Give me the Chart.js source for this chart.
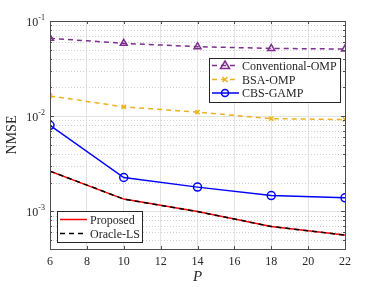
<!DOCTYPE html>
<html>
<head>
<meta charset="utf-8">
<script src="https://cdn.jsdelivr.net/npm/chart.js@4"></script>
<style>
  html, body { margin: 0; padding: 0; background: #fff; }
</style>
</head>
<body>
<canvas id="grafico" width="382" height="287"></canvas>
<script>
// dados
const pValues = [6, 10, 14, 18, 22];
const convOmp = [0.0658, 0.0582, 0.0537, 0.0515, 0.0507];
const bsaOmp = [0.0163, 0.0125, 0.0110, 0.0094, 0.0092];
const cbsGamp = [0.0080, 0.00226, 0.00179, 0.00146, 0.00138];
const proposed = [0.00264, 0.00134, 0.00099, 0.00069, 0.00056];
const oracleLs = [0.00264, 0.00134, 0.00099, 0.00069, 0.00056];
const xTicks = [6, 8, 10, 12, 14, 16, 18, 20, 22];
const yDecades = [1e-3, 1e-2, 1e-1];

const SERIF = '"Liberation Serif", "DejaVu Serif", serif';
const AXIS = "#4d4d4d";

const pts = (ys) => ys.map((y, i) => ({ x: pValues[i], y: y }));

const legendA = [
  { label: "Conventional-OMP", color: "#7E2F8E", dash: [5, 4], marker: "tri" },
  { label: "BSA-OMP", color: "#EDB120", dash: [5, 4], marker: "x" },
  { label: "CBS-GAMP", color: "#0000FF", dash: [], marker: "circ" },
];
const legendB = [
  { label: "Proposed", color: "#FF0000", dash: [], marker: null },
  { label: "Oracle-LS", color: "#000000", dash: [5, 4], marker: null },
];

function drawMarker(ctx, kind, x, y, color) {
  ctx.save();
  ctx.strokeStyle = color;
  ctx.lineWidth = 1.5;
  ctx.setLineDash([]);
  ctx.beginPath();
  if (kind === "tri") {
    ctx.moveTo(x, y - 4.5);
    ctx.lineTo(x + 4.5, y + 3);
    ctx.lineTo(x - 4.5, y + 3);
    ctx.closePath();
  } else if (kind === "circ") {
    ctx.arc(x, y, 3.5, 0, Math.PI * 2);
  } else if (kind === "x") {
    ctx.moveTo(x - 2.5, y - 2.5); ctx.lineTo(x + 2.5, y + 2.5);
    ctx.moveTo(x + 2.5, y - 2.5); ctx.lineTo(x - 2.5, y + 2.5);
  }
  ctx.stroke();
  ctx.restore();
}

function drawLegend(ctx, items, x0, y0, w, h, rowY) {
  ctx.save();
  ctx.fillStyle = "#fff";
  ctx.fillRect(x0, y0, w, h);
  ctx.strokeStyle = "#262626";
  ctx.lineWidth = 1;
  ctx.strokeRect(x0 + 0.5, y0 + 0.5, w, h);
  ctx.font = "12px " + SERIF;
  ctx.textBaseline = "middle";
  items.forEach((it, i) => {
    const y = rowY[i];
    ctx.strokeStyle = it.color;
    ctx.lineWidth = 1.5;
    ctx.setLineDash(it.dash);
    ctx.beginPath();
    ctx.moveTo(x0 + 3, y);
    ctx.lineTo(x0 + 30, y);
    ctx.stroke();
    if (it.marker) drawMarker(ctx, it.marker, x0 + 16, y, it.color);
    ctx.fillStyle = "#262626";
    ctx.fillText(it.label, x0 + 33, y + 1);
  });
  ctx.restore();
}

const molduraPlugin = {
  id: "moldura",
  beforeDatasetsDraw(chart) {
    const { ctx, chartArea: a } = chart;
    const ys = chart.scales.y;
    // linhas secundárias pontilhadas
    ctx.save();
    ctx.strokeStyle = "#cfcfcf";
    ctx.lineWidth = 1;
    ctx.setLineDash([1, 2]);
    for (let e = -4; e <= -2; e++) {
      for (let m = 2; m <= 9; m++) {
        const v = m * Math.pow(10, e);
        if (v < ys.min || v > ys.max) continue;
        const py = Math.round(ys.getPixelForValue(v)) + 0.5;
        ctx.beginPath();
        ctx.moveTo(a.left, py);
        ctx.lineTo(a.right, py);
        ctx.stroke();
      }
    }
    ctx.restore();
  },
  afterDraw(chart) {
    const { ctx, chartArea: a } = chart;
    const xs = chart.scales.x;
    const ys = chart.scales.y;
    ctx.save();
    // caixa
    ctx.strokeStyle = AXIS;
    ctx.lineWidth = 1;
    ctx.strokeRect(a.left + 0.5, a.top + 0.5, a.right - a.left, a.bottom - a.top);
    // marcas de x
    ctx.beginPath();
    xTicks.forEach((v) => {
      const px = Math.round(xs.getPixelForValue(v)) + 0.5;
      ctx.moveTo(px, a.bottom); ctx.lineTo(px, a.bottom - 3);
      ctx.moveTo(px, a.top); ctx.lineTo(px, a.top + 3);
    });
    // marcas de y (maiores e menores)
    for (let e = -4; e <= -1; e++) {
      for (let m = 1; m <= 9; m++) {
        const v = m * Math.pow(10, e);
        if (v < ys.min - 1e-12 || v > ys.max + 1e-12) continue;
        const py = Math.round(ys.getPixelForValue(v)) + 0.5;
        const len = m === 1 ? 4 : 2;
        ctx.moveTo(a.left, py); ctx.lineTo(a.left + len, py);
        ctx.moveTo(a.right, py); ctx.lineTo(a.right - len, py);
      }
    }
    ctx.stroke();

    // rótulos de y com expoente
    ctx.fillStyle = "#262626";
    ctx.textBaseline = "alphabetic";
    yDecades.forEach((v) => {
      const py = ys.getPixelForValue(v);
      const sup = String(Math.round(Math.log10(v)));
      ctx.font = "8px " + SERIF;
      const sw = ctx.measureText(sup).width;
      ctx.font = "12px " + SERIF;
      const bw = ctx.measureText("10").width;
      const right = a.left - 5;
      ctx.fillText("10", right - sw - bw, py + 5);
      ctx.font = "8px " + SERIF;
      ctx.fillText(sup, right - sw, py - 1);
    });

    // títulos dos eixos
    ctx.font = "14px " + SERIF;
    ctx.textAlign = "center";
    ctx.textBaseline = "middle";
    ctx.save();
    ctx.translate(12, (a.top + a.bottom) / 2);
    ctx.rotate(-Math.PI / 2);
    ctx.fillText("NMSE", 0, 0);
    ctx.restore();
    ctx.font = "italic 15px " + SERIF;
    ctx.fillText("P", (a.left + a.right) / 2, 277);
    ctx.restore();

    drawLegend(ctx, legendA, 209, 58, 131, 44, [65.5, 79.5, 93]);
    drawLegend(ctx, legendB, 57, 211, 85, 31, [219.5, 233.5]);
  },
};

function serie(label, ys, color, dash, style, order) {
  return {
    label: label,
    data: pts(ys),
    borderColor: color,
    backgroundColor: "rgba(0,0,0,0)",
    borderWidth: 1.5,
    borderDash: dash,
    pointStyle: style || "circle",
    pointRadius: style ? (style === "crossRot" ? 3 : 4) : 0,
    pointBorderWidth: 1.5,
    pointBorderColor: color,
    pointBackgroundColor: "rgba(0,0,0,0)",
    tension: 0,
    order: order,
  };
}

new Chart(document.getElementById("grafico").getContext("2d"), {
  type: "line",
  data: {
    datasets: [
      serie("Conventional-OMP", convOmp, "#7E2F8E", [5, 4], "triangle", 4),
      serie("BSA-OMP", bsaOmp, "#EDB120", [5, 4], "crossRot", 3),
      serie("CBS-GAMP", cbsGamp, "#0000FF", [], "circle", 2),
      serie("Proposed", proposed, "#FF0000", [], null, 1),
      serie("Oracle-LS", oracleLs, "#000000", [5, 4], null, 0),
    ],
  },
  options: {
    responsive: false,
    animation: false,
    devicePixelRatio: 1,
    layout: { padding: { top: 21, right: 37, left: 0, bottom: 0 } },
    plugins: { legend: { display: false }, tooltip: { enabled: false } },
    scales: {
      x: {
        type: "linear",
        min: 6,
        max: 22,
        ticks: {
          stepSize: 2,
          color: "#262626",
          padding: 6,
          font: { family: SERIF, size: 12 },
          maxRotation: 0,
        },
        grid: { color: "#e3e3e3", drawTicks: false },
        border: { display: false },
        afterFit: (s) => { s.height = 38; },
      },
      y: {
        type: "logarithmic",
        min: 4e-4,
        max: 0.1,
        ticks: { display: false },
        grid: { color: "#e3e3e3", drawTicks: false },
        border: { display: false },
        afterBuildTicks: (s) => { s.ticks = yDecades.map((v) => ({ value: v })); },
        afterFit: (s) => { s.width = 50; },
      },
    },
  },
  plugins: [molduraPlugin],
});
</script>
</body>
</html>
